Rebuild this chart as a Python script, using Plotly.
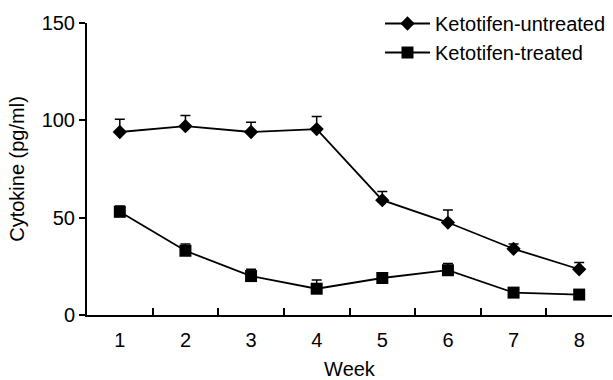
import plotly.graph_objects as go

weeks = [1, 2, 3, 4, 5, 6, 7, 8]
untreated = [94, 97, 94, 95.5, 59, 47.5, 34, 23.5]
untreated_err = [6.5, 5.5, 5, 6.5, 4.5, 6.5, 2.5, 3.5]
treated = [53, 33, 20, 13.5, 19, 23, 11.5, 10.5]
treated_err = [3, 3.5, 3.5, 4.5, 2.5, 3.5, 1.5, 1]
y_ticks = [0, 50, 100, 150]
x_minor = [1.5, 2.5, 3.5, 4.5, 5.5, 6.5, 7.5]

FONT = "Liberation Sans, Arial, sans-serif"

fig = go.Figure()
fig.add_trace(go.Scatter(
    x=weeks, y=untreated, name="Ketotifen-untreated", mode="lines+markers",
    legendgroup="a",
    line=dict(color="black", width=1.8),
    marker=dict(symbol="diamond", size=11, color="black"),
    error_y=dict(type="data", array=untreated_err, arrayminus=[0]*8, symmetric=False,
                 color="black", thickness=1.5, width=5),
))
fig.add_trace(go.Scatter(
    x=weeks, y=treated, name="Ketotifen-treated", mode="lines+markers",
    legendgroup="b",
    line=dict(color="black", width=1.8),
    marker=dict(symbol="square", size=12, color="black"),
    error_y=dict(type="data", array=treated_err, arrayminus=[0]*8, symmetric=False,
                 color="black", thickness=1.5, width=5),
))

fig.update_layout(
    width=613, height=380,
    margin=dict(l=87, r=1, t=23, b=65, autoexpand=False),
    paper_bgcolor="white", plot_bgcolor="white",
    font=dict(family=FONT, color="black", size=20),
    showlegend=True,
    legend=dict(x=(380 - 87) / 525, y=1.065, xanchor="left", yanchor="top",
                bgcolor="rgba(0,0,0,0)", font=dict(size=20, family=FONT),
                itemwidth=45, tracegroupgap=0),
    xaxis=dict(range=[0.5, 8.5], tickvals=weeks, ticks="", showgrid=False, zeroline=False,
               showline=True, linecolor="black", linewidth=2,
               tickfont=dict(size=20), ticklabelstandoff=6,
               minor=dict(tickvals=x_minor, ticks="inside", ticklen=7, tickcolor="black", tickwidth=1.5, showgrid=False),
               title=dict(text="Week", font=dict(size=20), standoff=16)),
    yaxis=dict(range=[0, 150], tickvals=y_ticks, ticks="outside", ticklen=6, tickwidth=1.5,
               tickcolor="black", showgrid=False, zeroline=False,
               showline=True, linecolor="black", linewidth=2,
               tickfont=dict(size=20),
               title=dict(text="Cytokine (pg/ml)", font=dict(size=20), standoff=12)),
)

fig.write_html("out.html", config={"displayModeBar": False},
               post_script="document.body.style.margin='0';")
